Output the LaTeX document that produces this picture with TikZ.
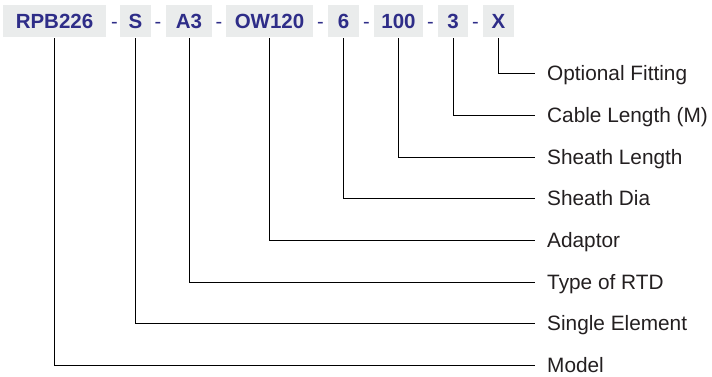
\documentclass[tikz,border=0pt]{standalone}
\usepackage{fontspec}
\setmainfont{Liberation Sans}
\definecolor{codeblue}{HTML}{2E2D88}
\definecolor{boxgray}{HTML}{EAECEC}
\definecolor{lblgray}{HTML}{231F20}
\tikzset{
  codebox/.style={fill=boxgray, text=codeblue, font=\fontsize{20.5}{20.5}\selectfont\bfseries,
    minimum height=32pt, text height=14.7pt, text depth=0pt, inner sep=0pt},
  sep/.style={text=codeblue, font=\fontsize{20}{20}\selectfont, text height=14.3pt, text depth=0pt, inner sep=0pt},
  lbl/.style={anchor=west, text=lblgray, font=\fontsize{20.8}{20.8}\selectfont, text height=14.9pt, text depth=0pt, inner sep=0pt},
  conn/.style={draw=black, line width=0.9pt}
}
\begin{document}
\begin{tikzpicture}[x=1pt,y=-1pt]
\useasboundingbox (0,0) rectangle (712,376);
% code boxes
\node[codebox, minimum width=103pt] (b1) at (54.5,21) {RPB226};
\node[codebox, minimum width=31pt] (b2) at (135.5,21) {S};
\node[codebox, minimum width=46pt] (b3) at (189,21) {A3};
\node[codebox, minimum width=87pt] (b4) at (269.5,21) {OW120};
\node[codebox, minimum width=31pt] (b5) at (343.5,21) {6};
\node[codebox, minimum width=49pt] (b6) at (398.5,21) {100};
\node[codebox, minimum width=30pt] (b7) at (453,21) {3};
\node[codebox, minimum width=31pt] (b8) at (498.5,21) {X};
% separators
\node[sep] (d1) at (114.5,21) {-};
\node[sep] (d2) at (158,21) {-};
\node[sep] (d3) at (219,21) {-};
\node[sep] (d4) at (320.5,21) {-};
\node[sep] (d5) at (366.5,21) {-};
\node[sep] (d6) at (430.5,21) {-};
\node[sep] (d7) at (475.5,21) {-};
% labels
\node[lbl] (l8) at (547,73) {Optional Fitting};
\node[lbl] (l7) at (547,115) {Cable Length (M)};
\node[lbl] (l6) at (547,157) {Sheath Length};
\node[lbl] (l5) at (547,198) {Sheath Dia};
\node[lbl] (l4) at (547,240) {Adaptor};
\node[lbl] (l3) at (547,282) {Type of RTD};
\node[lbl] (l2) at (547,323) {Single Element};
\node[lbl] (l1) at (547,365) {Model};
% connectors
\foreach \i in {1,...,8}{
  \draw[conn] ([yshift=-1pt]b\i.south) |- ([xshift=-12pt]l\i.west);
}
\end{tikzpicture}
\end{document}
